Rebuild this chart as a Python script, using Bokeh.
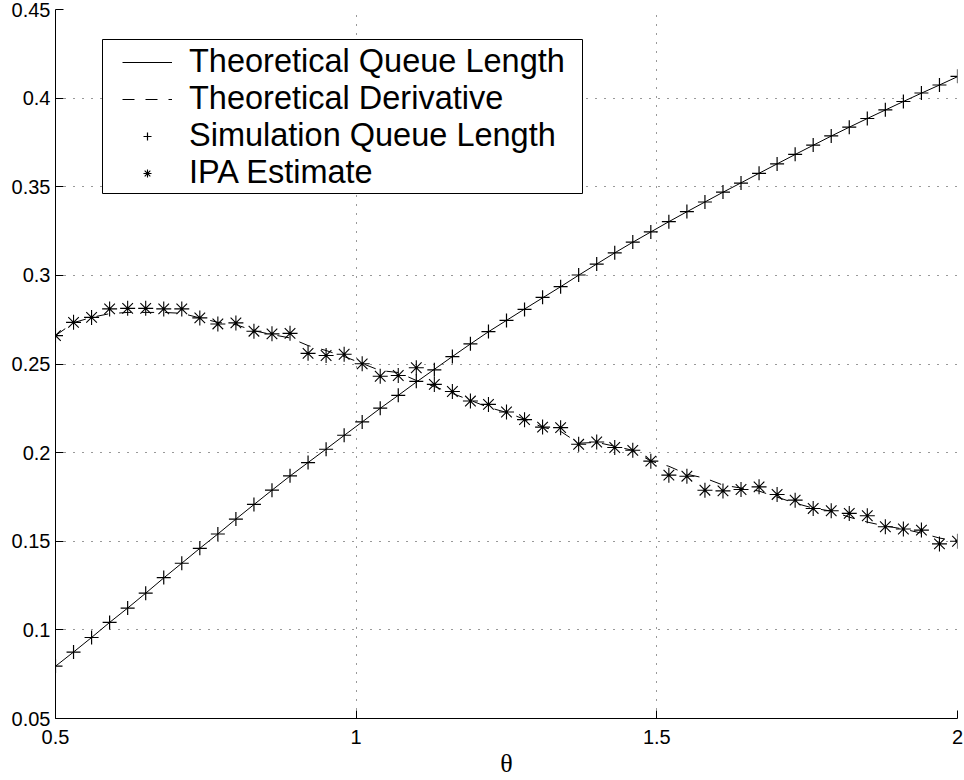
from bokeh.plotting import figure
from bokeh.models import FixedTicker, Legend, LegendItem, NumeralTickFormatter, BoxAnnotation
from bokeh.embed import file_html
from bokeh.resources import INLINE

theta = [0.50, 0.53, 0.56, 0.59, 0.62, 0.65, 0.68, 0.71, 0.74, 0.77,
         0.80, 0.83, 0.86, 0.89, 0.92, 0.95, 0.98, 1.01, 1.04, 1.07,
         1.10, 1.13, 1.16, 1.19, 1.22, 1.25, 1.28, 1.31, 1.34, 1.37,
         1.40, 1.43, 1.46, 1.49, 1.52, 1.55, 1.58, 1.61, 1.64, 1.67,
         1.70, 1.73, 1.76, 1.79, 1.82, 1.85, 1.88, 1.91, 1.94, 1.97, 2.00]

theory_queue = [0.0795, 0.0875, 0.0957, 0.1042, 0.1123, 0.1207, 0.1293, 0.1376, 0.1460, 0.1541,
                0.1625, 0.1707, 0.1788, 0.1868, 0.1944, 0.2020, 0.2097, 0.2173, 0.2250, 0.2323,
                0.2398, 0.2470, 0.2542, 0.2613, 0.2682, 0.2746, 0.2810, 0.2873, 0.2936, 0.3001,
                0.3064, 0.3127, 0.3187, 0.3245, 0.3303, 0.3359, 0.3414, 0.3469, 0.3522, 0.3576,
                0.3629, 0.3682, 0.3734, 0.3786, 0.3836, 0.3885, 0.3933, 0.3981, 0.4028, 0.4074, 0.4121]

theory_derivative = [0.2660, 0.2733, 0.2763, 0.2784, 0.2791, 0.2791, 0.2791, 0.2786, 0.2760, 0.2735,
                     0.2722, 0.2688, 0.2666, 0.2647, 0.2604, 0.2576, 0.2542, 0.2503, 0.2463, 0.2452,
                     0.2407, 0.2373, 0.2334, 0.2295, 0.2255, 0.2227, 0.2188, 0.2143, 0.2120, 0.2053,
                     0.2058, 0.2036, 0.2013, 0.1952, 0.1923, 0.1878, 0.1856, 0.1817, 0.1800, 0.1783,
                     0.1749, 0.1715, 0.1687, 0.1670, 0.1636, 0.1608, 0.1586, 0.1569, 0.1546, 0.1518, 0.1501]

sim_queue = [0.0795, 0.0875, 0.0957, 0.1042, 0.1123, 0.1207, 0.1295, 0.1376, 0.1460, 0.1541,
             0.1625, 0.1708, 0.1788, 0.1869, 0.1944, 0.2019, 0.2098, 0.2173, 0.2251, 0.2323,
             0.2402, 0.2467, 0.2542, 0.2614, 0.2683, 0.2746, 0.2808, 0.2876, 0.2936, 0.3002,
             0.3064, 0.3127, 0.3188, 0.3245, 0.3303, 0.3360, 0.3414, 0.3470, 0.3521, 0.3576,
             0.3629, 0.3683, 0.3735, 0.3787, 0.3836, 0.3885, 0.3934, 0.3981, 0.4029, 0.4074, 0.4123]

ipa_estimate = [0.2660, 0.2735, 0.2763, 0.2811, 0.2814, 0.2814, 0.2811, 0.2811, 0.2760, 0.2726,
                0.2732, 0.2685, 0.2670, 0.2673, 0.2560, 0.2548, 0.2555, 0.2501, 0.2431, 0.2435,
                0.2479, 0.2385, 0.2345, 0.2291, 0.2272, 0.2229, 0.2186, 0.2144, 0.2141, 0.2047,
                0.2060, 0.2029, 0.2013, 0.1952, 0.1873, 0.1867, 0.1788, 0.1784, 0.1792, 0.1807,
                0.1764, 0.1732, 0.1685, 0.1672, 0.1657, 0.1644, 0.1582, 0.1569, 0.1563, 0.1485, 0.1500]

x_ticks = [0.5, 1.0, 1.5, 2.0]
y_ticks = [0.05, 0.1, 0.15, 0.2, 0.25, 0.3, 0.35, 0.4, 0.45]

legend_labels = ["Theoretical Queue Length", "Theoretical Derivative",
                 "Simulation Queue Length", "IPA Estimate"]

p = figure(width=964, height=780, x_range=(0.5, 2.0), y_range=(0.05, 0.45),
           output_backend="svg", toolbar_location=None,
           min_border_left=55, min_border_right=7, min_border_top=9, min_border_bottom=61)
p.outline_line_color = None
p.background_fill_color = "white"
p.border_fill_color = "white"

p.xaxis.ticker = FixedTicker(ticks=x_ticks)
p.yaxis.ticker = FixedTicker(ticks=y_ticks)
p.xaxis.formatter = NumeralTickFormatter(format="0.[0]")
p.yaxis.formatter = NumeralTickFormatter(format="0.[00]")
for ax in (p.xaxis[0], p.yaxis[0]):
    ax.major_tick_in = 8
    ax.major_tick_out = 0
    ax.minor_tick_line_color = None
    ax.axis_line_color = "black"
    ax.major_tick_line_color = "black"
    ax.major_label_text_font = "Liberation Sans"
    ax.major_label_text_font_size = "20px"
    ax.major_label_text_color = "black"
p.yaxis.major_label_standoff = 5
p.xaxis.major_label_standoff = 11
p.xaxis.axis_label = "θ"
p.xaxis.axis_label_text_font = "Liberation Serif"
p.xaxis.axis_label_text_font_size = "26px"
p.xaxis.axis_label_text_font_style = "normal"
p.xaxis.axis_label_text_color = "black"
p.xaxis.axis_label_standoff = 2

p.grid.grid_line_color = "black"
p.grid.grid_line_dash = "1 8"
p.grid.grid_line_width = 1
p.grid.grid_line_alpha = 0.8

r_theory = p.line(theta, theory_queue, line_color="black", line_width=1)
r_deriv = p.line(theta, theory_derivative, line_color="black", line_width=1, line_dash="12 11")
r_sim = p.scatter(theta, sim_queue, marker="cross", size=14, line_color="black", line_width=1.2)
r_ipa = p.scatter(theta, ipa_estimate, marker="asterisk", size=15, line_color="black", line_width=1.1)

legend_box = BoxAnnotation(left=102, right=582, top=39, bottom=193,
                           left_units="canvas", right_units="canvas",
                           top_units="canvas", bottom_units="canvas",
                           fill_color="white", fill_alpha=1,
                           line_color="black", line_width=1, line_alpha=1)
p.add_layout(legend_box)

legend = Legend(items=[LegendItem(label=legend_labels[0], renderers=[r_theory]),
                       LegendItem(label=legend_labels[1], renderers=[r_deriv]),
                       LegendItem(label=legend_labels[2], renderers=[r_sim]),
                       LegendItem(label=legend_labels[3], renderers=[r_ipa])],
                location=(67, 527))
legend.label_text_font = "Liberation Sans"
legend.label_text_font_size = "32.5px"
legend.label_text_color = "black"
legend.glyph_width = 50
legend.glyph_height = 20
legend.label_standoff = 17
legend.padding = 0
legend.spacing = 0
legend.margin = 0
legend.border_line_color = None
legend.background_fill_alpha = 0
p.add_layout(legend)

open("out.html", "w").write(file_html(p, INLINE))
